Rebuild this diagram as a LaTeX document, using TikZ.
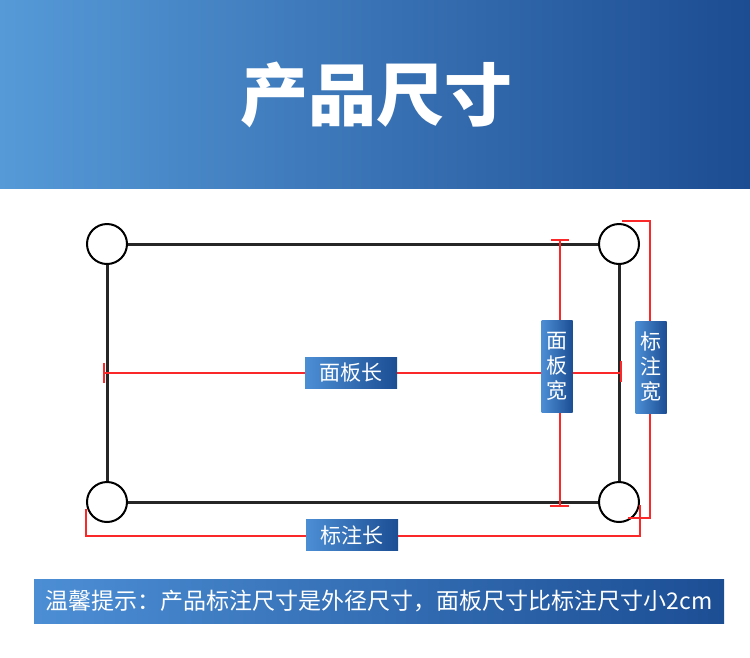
\documentclass[tikz,border=0pt]{standalone}
\usepackage{fontspec}
\setmainfont{Noto Sans CJK SC}
\usetikzlibrary{positioning}
\definecolor{hdrL}{RGB}{86,154,216}
\definecolor{hdrR}{RGB}{28,76,146}
\definecolor{boxL}{RGB}{76,142,212}
\definecolor{boxR}{RGB}{28,78,148}
\definecolor{dimred}{RGB}{250,40,40}
\begin{document}
\begin{tikzpicture}[x=1pt, y=-1pt,
    corner/.style = {draw, circle, fill=white, line width=2pt, minimum size=40pt, inner sep=0pt},
    frame/.style = {line width=3pt, black!85},
    dim/.style = {dimred, line width=1.3pt},
    tick/.style = {dimred, line width=2.2pt},
    tag/.style = {left color=boxL, right color=boxR, text=white, inner sep=0pt,
        font=\fontsize{21}{21}\selectfont, minimum width=92pt, minimum height=31pt},
    vtag/.style = {tag, align=center, font=\fontsize{21}{25}\selectfont,
        minimum width=31pt, minimum height=92pt}]
    \useasboundingbox (0,0) rectangle (750,657);
    % header
    \shade[left color=hdrL, right color=hdrR] (0,0) rectangle (750,188);
    \node[text=white, font=\fontsize{68}{68}\selectfont\bfseries] (title) at (376,95) {产品尺寸};
    % panel frame
    \node[corner] (tl) at (107,244) {};
    \node[corner] (tr) at (619,244) {};
    \node[corner] (bl) at (107,502) {};
    \node[corner] (br) at (619,502) {};
    \draw[frame] (tl) -- (tr) -- (br) -- (bl) -- (tl);
    % dimension lines
    \coordinate (pl) at (104,373);
    \coordinate (pr) at (621,373);
    \coordinate (pt) at (560,240);
    \coordinate (pb) at (560,506);
    \coordinate (wa) at (622,221);
    \coordinate (wb) at (650,221);
    \coordinate (wc) at (650,518);
    \coordinate (wd) at (628,518);
    \coordinate (la) at (86,509);
    \coordinate (lb) at (86,536);
    \coordinate (lc) at (640,536);
    \coordinate (ld) at (640,509);
    \draw[dim] (pl) -- (pr);
    \draw[dim] (pt) -- (pb);
    \draw[dim] (wa) -- (wb) -- (wc) -- (wd);
    \draw[dim] (la) -- (lb) -- (lc) -- (ld);
    \draw[tick] ([yshift=10pt]pl) -- ([yshift=-10pt]pl);
    \draw[tick] ([yshift=12pt]pr) -- ([yshift=-9pt]pr);
    \draw[tick] ([xshift=-9pt]pt) -- ([xshift=9pt]pt);
    \draw[tick] ([xshift=-10pt]pb) -- ([xshift=9pt]pb);
    \draw[dim] ([yshift=4pt]ld) -- ([yshift=-10pt]ld);
    % labels
    \node[tag] (plen) at (351,373) {面板长};
    \node[vtag] (pwid) at (557,366) {面\\板\\宽};
    \node[vtag] (mwid) at (651,367) {标\\注\\宽};
    \node[tag] (mlen) at (352,535) {标注长};
    % note
    \node[tag, font=\fontsize{23}{23}\selectfont, minimum width=690pt, minimum height=44pt] (note) at (379,601)
        {温馨提示：产品标注尺寸是外径尺寸，面板尺寸比标注尺寸小2cm};
\end{tikzpicture}
\end{document}
